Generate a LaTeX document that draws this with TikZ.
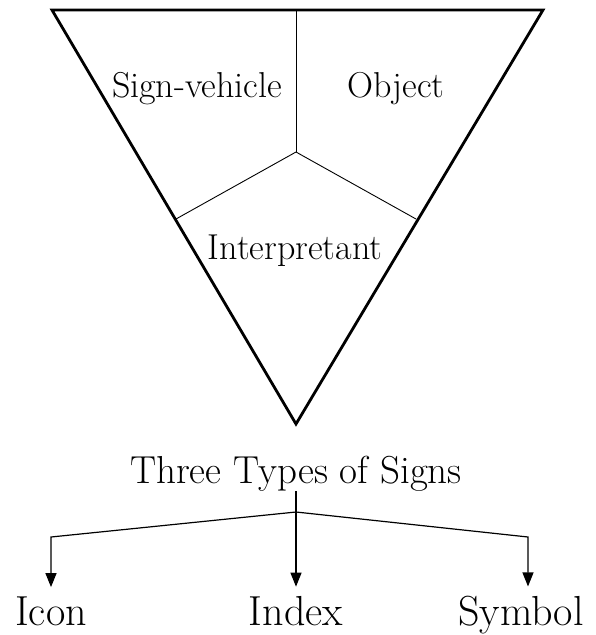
\documentclass[tikz,border=0pt]{standalone}
\usetikzlibrary{arrows.meta}
\begin{document}
\begin{tikzpicture}[x=1pt,y=-1pt,
  thickline/.style={line width=2.8pt,line join=miter},
  thinline/.style={line width=0.9pt},
  lab/.style={inner sep=0pt,anchor=base,font=\fontsize{36}{40}\selectfont},
  big/.style={inner sep=0pt,anchor=base,font=\fontsize{39}{44}\selectfont},
  leaf/.style={inner sep=0pt,anchor=base,font=\fontsize{42}{46}\selectfont},
  arr/.style={line width=1.2pt,-{Triangle[length=14pt,width=11pt]},shorten >=9pt}]
\useasboundingbox (0,0) rectangle (595,635);
% triangle
\coordinate (tl) at (52,10);
\coordinate (tr) at (543,10);
\coordinate (ap) at (296,424);
\coordinate (tm) at (296,10);
\coordinate (c) at (296,152);
\coordinate (jl) at (176,219);
\coordinate (jr) at (416,219);
\draw[thinline] (tm) -- (c);
\draw[thinline] (c) -- (jl);
\draw[thinline] (c) -- (jr);
\draw[thickline] (tl) -- (tr) -- (ap) -- cycle;
\node[lab] (sv) at (197,97) {Sign-vehicle};
\node[lab] (ob) at (396,97) {Object};
\node[lab] (in) at (295,259) {Interpretant};
% tree
\node[big] (tt) at (296,483) {Three Types of Signs};
\node[leaf] (ic) at (51,625) {Icon};
\node[leaf] (ix) at (296,625) {Index};
\node[leaf] (sy) at (521,625) {Symbol};
\coordinate (br) at (296,512);
\coordinate (bl) at (51,537);
\coordinate (bR) at (528,537);
\draw[arr] (tt.south) -- (ix.north);
\draw[arr] (br) -- (bl) -- (ic.north -| bl);
\draw[arr] (br) -- (bR) -- (sy.north -| bR);
\end{tikzpicture}
\end{document}
